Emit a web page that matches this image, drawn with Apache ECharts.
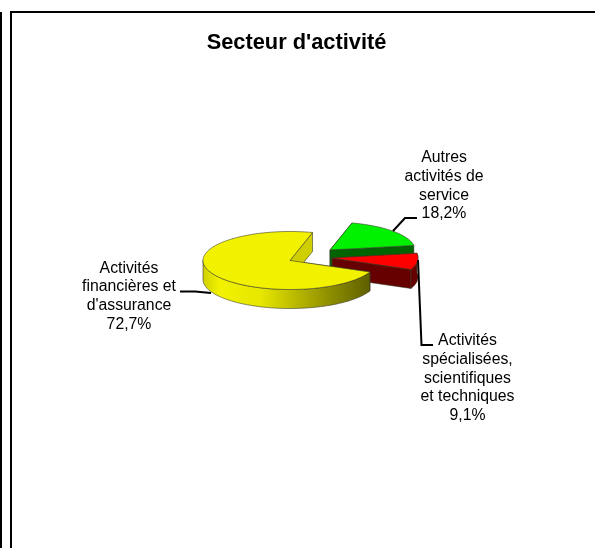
<!DOCTYPE html>
<html>
<head>
<meta charset="utf-8">
<style>html,body{margin:0;padding:0;background:#fff}#c{width:595px;height:548px}</style>
<script src="https://cdn.jsdelivr.net/npm/echarts@6/dist/echarts.min.js"></script>
</head>
<body>
<div id="c"></div>
<script>
const chartTitle = "Secteur d'activité";
const categories = ["Autres\nactivités de\nservice", "Activités\nspécialisées,\nscientifiques\net techniques", "Activités\nfinancières et\nd'assurance"];
const values = [18.2, 9.1, 72.7];
const percentLabels = ["18,2%", "9,1%", "72,7%"];

// Presentation only
const startAngle = 75, depth = 19;
const centers = [[330, 250], [332, 258], [290, 260.5]];
const radii = [[85, 28], [86, 29], [87, 29]];
const topColors = ["#00F200", "#FF0000", "#F2F200"];
const cutColors = [["#006400", "#006400"], ["#660000", "#660000"], ["#666600", "#CFCF00"]];
const labelCenters = [[444, 158], [467.5, 341], [129, 268.5]];
const leaders = [
  [[393, 231], [405, 218], [417, 218]],
  [[418, 260], [421.5, 345], [433, 345]],
  [[180, 291.5], [195, 291.5], [211, 293]]
];
const edge = "#3a3a2a";
const total = values.reduce((a, b) => a + b, 0);

function pt(c, r, deg, dy) {
  const t = deg * Math.PI / 180;
  return [c[0] + r[0] * Math.cos(t), c[1] - r[1] * Math.sin(t) + (dy || 0)];
}
function arcPts(c, r, from, to, dy) {
  const out = [], n = Math.max(2, Math.ceil(Math.abs(to - from)));
  for (let i = 0; i <= n; i++) out.push(pt(c, r, from + (to - from) * i / n, dy));
  return out;
}
function poly(points, fill, z) {
  return { type: 'polygon', z2: z, shape: { points }, style: { fill, stroke: edge, lineWidth: 0.6 } };
}
function renderSlice(params, api) {
  const i = params.dataIndex, v = api.value(0);
  let before = 0;
  for (let k = 0; k < i; k++) before += values[k];
  const a0 = startAngle - before / total * 360, a1 = a0 - v / total * 360;
  const c = centers[i], r = radii[i], kids = [];
  const wall = (deg, col) => {
    const p = pt(c, r, deg);
    kids.push(poly([c, p, [p[0], p[1] + depth], [c[0], c[1] + depth]], col, 1));
  };
  wall(a0, cutColors[i][0]);
  wall(a1, cutColors[i][1]);
  // visible part of the rim: angles between 180 and 360 (i.e. -180..0)
  const lo = Math.max(a1, -180), hi = Math.min(a0, i === 1 ? a0 : 0);
  if (hi > lo) {
    const outer = arcPts(c, r, hi, lo, 0).concat(arcPts(c, r, lo, hi, depth));
    const fill = i === 2
      ? new echarts.graphic.LinearGradient(0, 0, 1, 0, [
          { offset: 0, color: "#CFCF00" }, { offset: 0.1, color: "#F2F200" },
          { offset: 0.35, color: "#E6E600" }, { offset: 0.7, color: "#9A9A00" }, { offset: 1, color: "#5E5E00" }])
      : cutColors[i][1];
    kids.push(poly(outer, fill, 2));
  }
  kids.push(poly([c].concat(arcPts(c, r, a0, a1, 0)), topColors[i], 3));
  kids.push({ type: 'polyline', z2: 4, shape: { points: leaders[i] }, style: { fill: null, stroke: "#000", lineWidth: 2 } });
  kids.push({ type: 'text', z2: 5, x: labelCenters[i][0], y: labelCenters[i][1] - 9.3,
    style: { text: categories[i] + "\n" + percentLabels[i], align: 'center', verticalAlign: 'top',
      font: "15.8px 'Liberation Sans', Arial, sans-serif", lineHeight: 18.6, fill: "#000" } });
  return { type: 'group', children: kids };
}
const chart = echarts.init(document.getElementById('c'), null, { renderer: 'canvas' });
chart.setOption({
  animation: false,
  backgroundColor: "#fff",
  title: { text: chartTitle, left: 291.5, top: 27, textAlign: 'center',
    textStyle: { fontFamily: "'Liberation Sans', Arial, sans-serif", fontWeight: 'bold', fontSize: 21.8, color: "#000" } },
  graphic: [
    { type: 'line', shape: { x1: 1, y1: 12, x2: 1, y2: 548 }, style: { stroke: "#000", lineWidth: 2 } },
    { type: 'line', shape: { x1: 11, y1: 12, x2: 11, y2: 548 }, style: { stroke: "#000", lineWidth: 2 } },
    { type: 'line', shape: { x1: 10, y1: 12, x2: 595, y2: 12 }, style: { stroke: "#000", lineWidth: 2 } }
  ],
  series: [{
    type: 'custom', coordinateSystem: 'none', clip: false, silent: true,
    data: values.map((v, i) => ({ name: categories[i], value: [v] })),
    encode: { value: 0 },
    renderItem: renderSlice
  }]
});
</script>
</body>
</html>
